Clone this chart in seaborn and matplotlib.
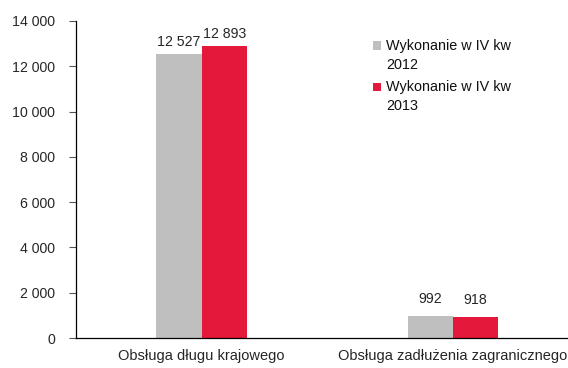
import matplotlib
matplotlib.use("Agg")
import matplotlib.pyplot as plt
from matplotlib import font_manager
from matplotlib.patches import Rectangle
from matplotlib.ticker import FuncFormatter, FixedLocator
import seaborn as sns
import pandas as pd

categories = ["Obsługa długu krajowego", "Obsługa zadłużenia zagranicznego"]
series = ["Wykonanie w IV kw\n2012", "Wykonanie w IV kw\n2013"]
values_2012 = [12527, 992]
values_2013 = [12893, 918]
colors = ["#BFBFBF", "#E4183A"]

df = pd.DataFrame({
    "kategoria": categories * 2,
    "seria": [series[0]] * 2 + [series[1]] * 2,
    "wartosc": values_2012 + values_2013,
})


def fmt(v):
    return f"{int(round(v)):,}".replace(",", " ")


sns.set_style("white")
plt.rcParams["font.family"] = ["Liberation Sans", "DejaVu Sans"]

# numbers use a narrow face when available
installed = {f.name for f in font_manager.fontManager.ttflist}
if "Liberation Sans Narrow" in installed:
    num_family, num_size = ["Liberation Sans Narrow", "Liberation Sans"], 11.5
else:
    num_family, num_size = ["Liberation Sans", "DejaVu Sans"], 10.2

W, H = 568, 368
fig = plt.figure(figsize=(W / 100, H / 100), dpi=100)
ax = fig.add_axes([76 / W, 30 / H, 502.5 / W, 317 / H])

sns.barplot(data=df, x="kategoria", y="wartosc", hue="seria",
            palette=colors, width=0.36, saturation=1, linewidth=0,
            ax=ax, errorbar=None, legend=False)

ax.set_ylim(0, 14000)
ax.set_xlim(-0.5, 1.5)
ax.yaxis.set_major_locator(FixedLocator(range(0, 14001, 2000)))
ax.yaxis.set_major_formatter(FuncFormatter(lambda v, p: fmt(v)))
ax.tick_params(axis="y", direction="out", length=5, width=0.8, color="#555555",
               labelsize=num_size, pad=10, left=True)
for lbl in ax.get_yticklabels():
    lbl.set_family(num_family)
ax.tick_params(axis="x", length=0, labelsize=10.5, pad=8)
ax.set_xticks(range(len(categories)))
ax.set_xticklabels(categories)
ax.xaxis.set_minor_locator(FixedLocator([0.5]))
ax.tick_params(axis="x", which="minor", direction="out", length=4, width=0.8,
               color="#555555")

for s in ["top", "right"]:
    ax.spines[s].set_visible(False)
for s in ["left", "bottom"]:
    ax.spines[s].set_color("#000000")
    ax.spines[s].set_linewidth(0.9)

ax.set_xlabel("")
ax.set_ylabel("")

# value labels above bars; small bars get a little more room
for cont in ax.containers:
    for bar, v in zip(cont, cont.datavalues):
        pad = 5 if v > 5000 else 10
        ax.annotate(fmt(v), (bar.get_x() + bar.get_width() / 2, v),
                    xytext=(0, pad), textcoords="offset pixels",
                    ha="center", va="bottom", fontsize=num_size,
                    family=num_family)

# legend: square swatch aligned with the first line of a two-line label
legend_tops = [41, 82.5]
for top, label, color in zip(legend_tops, series, colors):
    fig.add_artist(Rectangle((372.5 / W, 1 - (top + 8.5) / H), 8.5 / W, 8.5 / H,
                             transform=fig.transFigure, facecolor=color,
                             edgecolor="none"))
    fig.text(386.5 / W, 1 - (top - 2) / H, label, ha="left", va="top",
             fontsize=10.4, linespacing=1.45, color="#111111")

fig.savefig("out.png", dpi=100)
